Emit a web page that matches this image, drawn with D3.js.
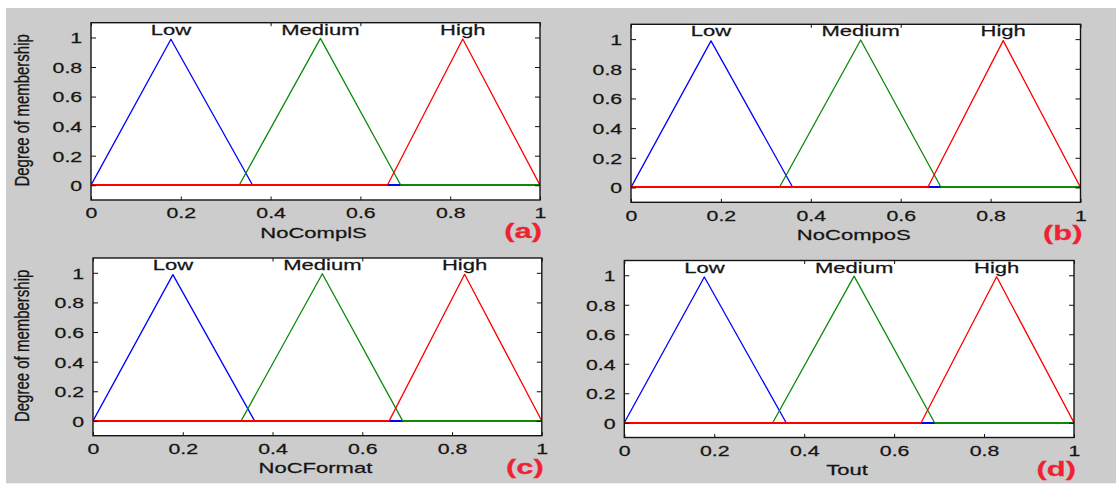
<!DOCTYPE html>
<html><head><meta charset="utf-8">
<script src="https://cdn.jsdelivr.net/npm/d3@7"></script>
<style>
body{margin:0;background:#fff}
svg{display:block}
text{font-family:"Liberation Sans",Arial,Helvetica,sans-serif;fill:#151515;stroke:#151515;stroke-width:0.25px}
</style>
</head><body>
<svg id="chart" width="1116" height="485"></svg>
<script>
// ---------- data ----------
const panelNames = ["NoComplS", "NoCompoS", "NoCFormat", "Tout"];
const panelTags = ["(a)", "(b)", "(c)", "(d)"];
const mfNames = ["Low", "Medium", "High"];
// triangular membership functions [a, peak position, c]
const mfLow = [0, 0.178, 0.36];
const mfMedium = [0.33, 0.511, 0.69];
const mfHigh = [0.66, 0.828, 1.0];
// sampled peak heights as drawn
const mfPeaks = [0.988, 0.994, 0.99];
const xTicks = [0, 0.2, 0.4, 0.6, 0.8, 1];
const yTicks = [0, 0.2, 0.4, 0.6, 0.8, 1];
const xDomain = [0, 1];
const yDomain = [-0.1, 1.1];
const yLabelText = "Degree of membership";
const labelLevel = 1.018;

// ---------- style / layout ----------
const mfColors = ["#0000ff", "#0b8a0b", "#ff0000"];
const layout = [
  {x0: 91,    x1: 540,    y0: 22.7,  y1: 200,   ylab: true},
  {x0: 631,   x1: 1080.5, y0: 24.3,  y1: 202.3, ylab: false},
  {x0: 93,    x1: 541.8,  y0: 258,   y1: 435.7, ylab: true},
  {x0: 624.3, x1: 1074,   y0: 260.5, y1: 437.5, ylab: false}
];
const SX = 1.47;      // horizontal stretch of the original figure's text
const SXTick = 1.42;

const svg = d3.select("#chart");
svg.append("rect").attr("x", 6).attr("y", 8).attr("width", 1110).attr("height", 475.3).attr("fill", "#cccccc");

const mfParams = [mfLow, mfMedium, mfHigh];
// rising/falling part of each triangle
function mfSlope(p, peak) { return [[p[0], 0], [p[1], peak], [p[2], 0]]; }
// zero parts of each membership function over the universe
function mfZero(p) {
  const segs = [];
  if (p[0] > xDomain[0]) segs.push([[xDomain[0], 0], [p[0], 0]]);
  if (p[2] < xDomain[1]) segs.push([[p[2], 0], [xDomain[1], 0]]);
  return segs;
}
const fmt = d => (d === 0 || d === 1) ? String(d) : d.toFixed(1);

panelNames.forEach((name, i) => {
  const L = layout[i];
  const x = d3.scaleLinear().domain(xDomain).range([L.x0, L.x1]);
  const y = d3.scaleLinear().domain(yDomain).range([L.y1, L.y0]);
  const g = svg.append("g");

  g.append("rect").attr("x", L.x0).attr("y", L.y0)
    .attr("width", L.x1 - L.x0).attr("height", L.y1 - L.y0).attr("fill", "#fff");

  const clipId = "clip" + i;
  svg.append("clipPath").attr("id", clipId).append("rect")
    .attr("x", L.x0).attr("y", L.y0).attr("width", L.x1 - L.x0).attr("height", L.y1 - L.y0);

  const line = d3.line().x(d => x(d[0])).y(d => y(d[1]));
  // zero segments snapped to whole pixels so overlapping baselines don't blend
  const zeroLine = d3.line().x(d => x(d[0])).y(d => Math.round(y(d[1])));
  const lines = g.append("g").attr("clip-path", `url(#${clipId})`);
  mfParams.forEach((p, k) => {
    mfZero(p).forEach(seg => {
      lines.append("path").datum(seg).attr("d", zeroLine).attr("fill", "none")
        .attr("stroke", mfColors[k]).attr("stroke-width", 2);
    });
    lines.append("path").datum(mfSlope(p, mfPeaks[k]))
      .attr("d", line).attr("fill", "none")
      .attr("stroke", mfColors[k]).attr("stroke-width", 1.3)
      .attr("stroke-linejoin", "round");
  });

  // mirrored ticks on top / right
  g.append("g").attr("transform", `translate(0,${L.y0})`)
    .call(d3.axisTop(x).tickValues(xTicks).tickSize(-3.5).tickFormat(""))
    .call(a => a.select(".domain").remove());
  g.append("g").attr("transform", `translate(${L.x1},0)`)
    .call(d3.axisRight(y).tickValues(yTicks).tickSize(-5).tickFormat(""))
    .call(a => a.select(".domain").remove());

  // MF labels with white background
  mfNames.forEach((lab, k) => {
    const tg = g.append("g").attr("transform", `translate(${x(mfParams[k][1])},${y(labelLevel)}) scale(${SX},1)`);
    const bg = tg.append("rect").attr("fill", "#fff");
    const t = tg.append("text").attr("text-anchor", "middle").attr("font-size", 15).text(lab);
    const bb = t.node().getBBox();
    bg.attr("x", bb.x).attr("y", bb.y + 1).attr("width", bb.width).attr("height", -bb.y - 1);
  });

  // bottom axis
  const xa = g.append("g").attr("transform", `translate(0,${L.y1})`)
    .call(d3.axisBottom(x).tickValues(xTicks).tickSize(-3.5).tickFormat(fmt));
  xa.select(".domain").remove();
  xa.selectAll(".tick text").attr("y", 18.3).attr("dy", null).attr("x", 0)
    .attr("font-size", 15).attr("font-family", null).attr("fill", "#151515")
    .attr("transform", `scale(${SXTick},1)`);

  // left axis
  const ya = g.append("g").attr("transform", `translate(${L.x0},0)`)
    .call(d3.axisLeft(y).tickValues(yTicks).tickSize(-5).tickFormat(fmt));
  ya.select(".domain").remove();
  ya.selectAll(".tick text").attr("x", -8.8 / SXTick).attr("dy", "0.36em")
    .attr("font-size", 15).attr("font-family", null).attr("fill", "#151515")
    .attr("transform", `scale(${SXTick},1)`);
  g.selectAll(".tick line").attr("stroke", "#111").attr("stroke-width", 1);

  // frame
  g.append("rect").attr("x", L.x0).attr("y", L.y0)
    .attr("width", L.x1 - L.x0).attr("height", L.y1 - L.y0)
    .attr("fill", "none").attr("stroke", "#141414").attr("stroke-width", 1.4);

  // x label
  g.append("g").attr("transform", `translate(${(L.x0 + L.x1) / 2 - 2},${L.y1 + 37.5}) scale(${SX},1)`)
    .append("text").attr("text-anchor", "middle").attr("font-size", 15).text(name);

  // y label
  if (L.ylab) {
    g.append("g").attr("transform", `translate(${29.3},${(L.y0 + L.y1) / 2 - 1}) rotate(-90) scale(1,1.3)`)
      .append("text").attr("text-anchor", "middle").attr("font-size", 15).text(yLabelText);
  }

  // panel tag
  g.append("g").attr("transform", `translate(${L.x1 + 2},${L.y1 + 38}) scale(${SX},1)`)
    .append("text").attr("text-anchor", "end").attr("font-size", 21)
    .attr("font-weight", "bold").style("fill", "#ee2233").style("stroke", "#ee2233").text(panelTags[i]);
});
</script>
</body></html>
